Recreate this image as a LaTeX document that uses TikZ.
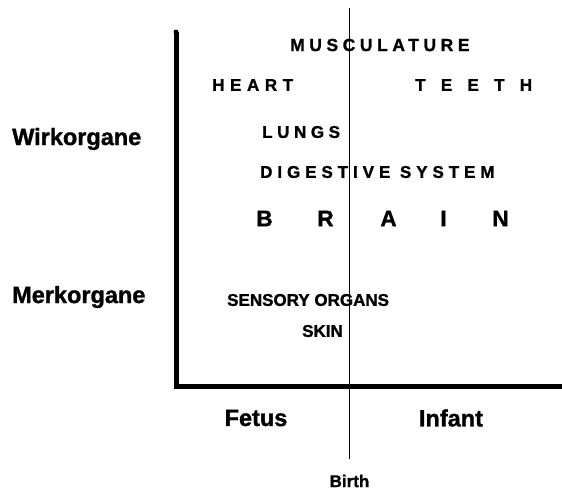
\documentclass[tikz,border=0pt]{standalone}
\usepackage{fontspec}
\setmainfont{Liberation Sans}
\newfontfamily\hv{Liberation Sans}[UprightFont=* Bold, FakeBold=1.3]
\newcommand{\capfont}[2]{\hv\fontsize{#1}{#1}\selectfont\addfontfeatures{LetterSpace=#2}}
\begin{document}
\begin{tikzpicture}[x=1pt,y=-1pt]
\useasboundingbox (0,0) rectangle (562,490);
\tikzset{
  lab/.style={anchor=west, inner sep=0pt, text=black},
  side/.style={anchor=west, inner sep=0pt, font=\hv\fontsize{23.5}{23.5}\selectfont},
  axisline/.style={line width=5pt, line join=miter},
  birthline/.style={line width=1.1pt},
  brainletter/.style={inner sep=0pt, font=\hv\fontsize{22.5}{22.5}\selectfont}
}
% labels
\node[lab, font=\capfont{17.5}{26}] (musc) at (290,45) {MUSCULATURE};
\node[lab, font=\capfont{17}{33}] (heart) at (212,85) {HEART};
\node[lab, font=\capfont{17}{90}] (teeth) at (415,85) {TEETH};
\node[lab, font=\capfont{17}{27}] (lungs) at (262,132) {LUNGS};
\node[lab, font=\capfont{17}{29}] (dig) at (260,172) {DIGESTIVE SYSTEM};
\node[brainletter] (b1) at (264.5,218.5) {B};
\node[brainletter] (b2) at (325.5,218.5) {R};
\node[brainletter] (b3) at (388.5,218.5) {A};
\node[brainletter] (b4) at (443.5,218.5) {I};
\node[brainletter] (b5) at (500.5,218.5) {N};
\node[lab, font=\capfont{17}{0}] (sens) at (227,300) {SENSORY ORGANS};
\node[lab, font=\capfont{17}{0}] (skin) at (302,331) {SKIN};
\node[side] (wirk) at (12,139) {Wirkorgane};
\node[side] (merk) at (12,297) {Merkorgane};
\node[side, anchor=center] (fetus) at (256,418) {Fetus};
\node[side, anchor=center] (infant) at (451,418) {Infant};
\node[inner sep=0pt, font=\hv\fontsize{17}{17}\selectfont] (birth) at (349.5,481) {Birth};
% axes
\coordinate (top) at (176,32);
\coordinate (corner) at (176,386);
\coordinate (right) at (565,386);
\draw[axisline] (top) -- (corner) -- (right);
\fill (top) circle (2.5pt);
% birth line
\coordinate (bt) at (349.5,8);
\coordinate (bb) at (349.5,459);
\draw[birthline] (bt) -- (bb);
\end{tikzpicture}
\end{document}
